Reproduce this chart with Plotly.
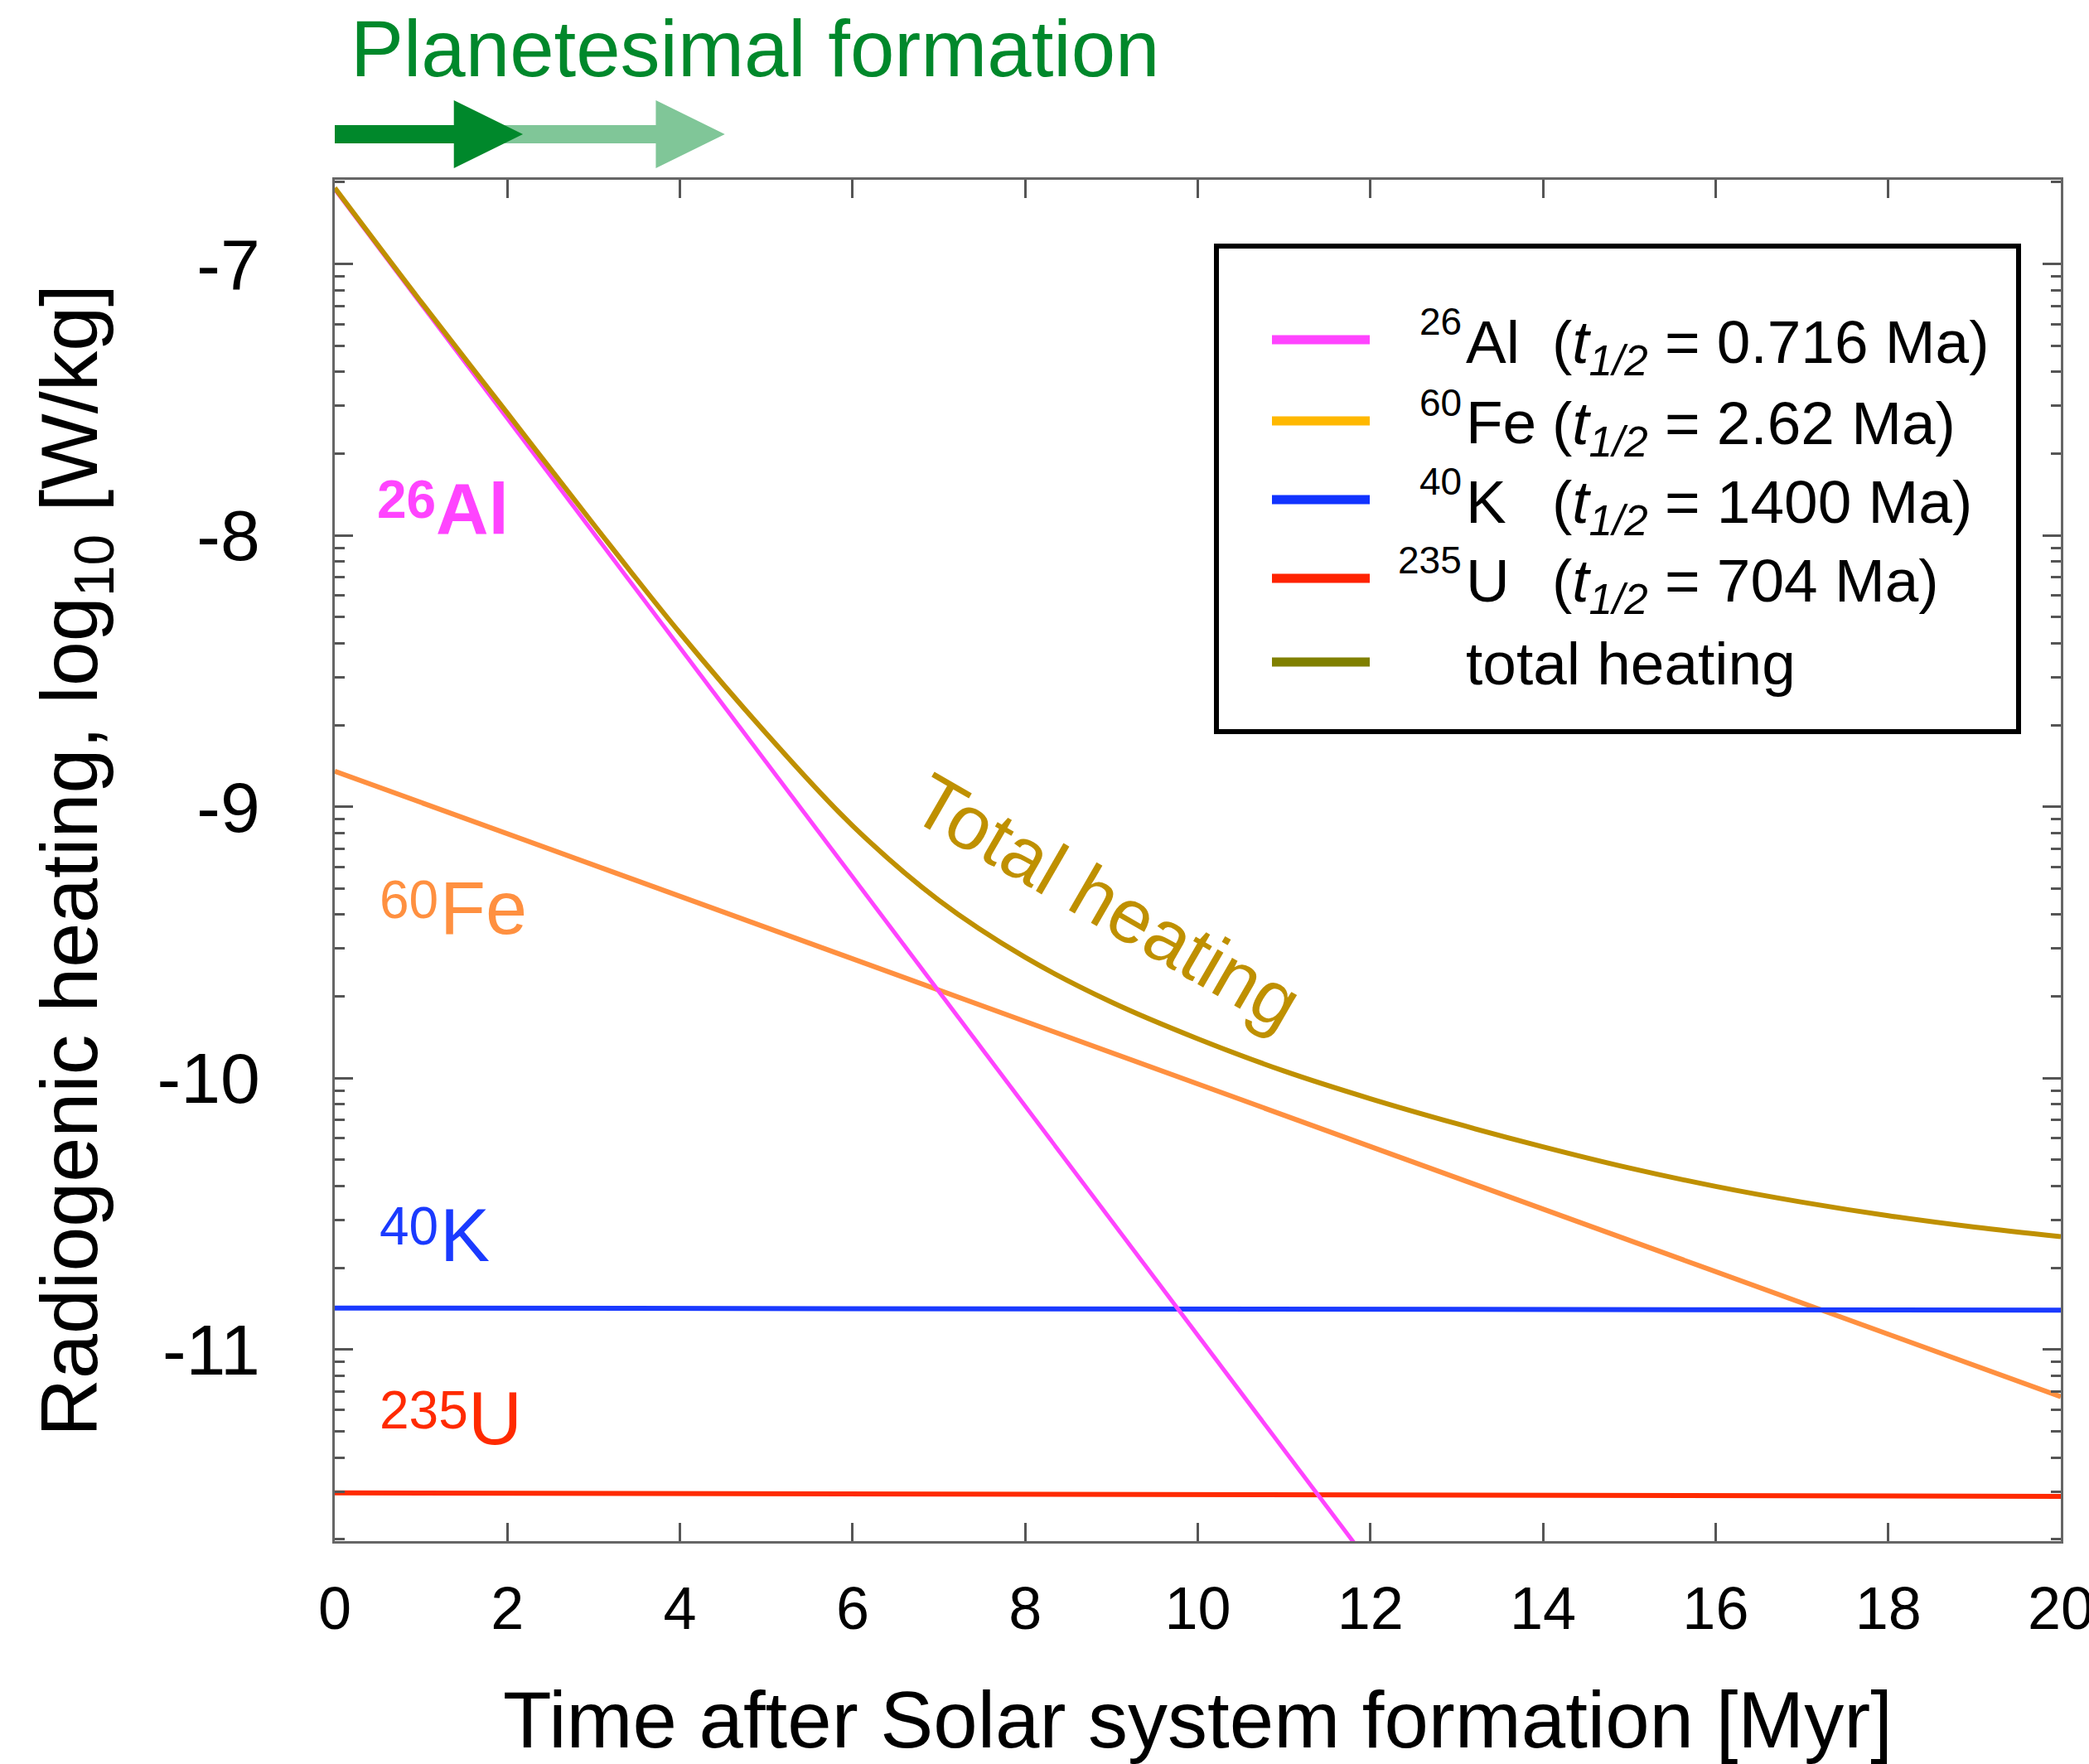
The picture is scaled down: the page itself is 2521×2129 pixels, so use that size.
import numpy as np
import plotly.graph_objects as go

# ---------------- data (log10 of heating in W/kg) ----------------
time_al = [0.0, 11.9]
heat_al = [-6.725, -11.75]

time_fe = [0.0, 20.0]
heat_fe = [-8.869, -11.174]

time_k = [0.0, 20.0]
heat_k = [-10.847, -10.855]

time_u = [0.0, 20.0]
heat_u = [-11.528, -11.541]

time_total = [0, 1, 2, 3, 4, 5, 6, 7, 8, 9, 10, 11, 12, 13, 14, 15, 16, 17, 18, 19, 20]
heat_total = [-6.72, -7.14, -7.55, -7.96, -8.36, -8.73, -9.07, -9.345, -9.555, -9.72,
              -9.855, -9.974, -10.076, -10.168, -10.253, -10.331, -10.399, -10.457, -10.507,
              -10.549, -10.584]

x_tick_vals = [0, 2, 4, 6, 8, 10, 12, 14, 16, 18, 20]
y_tick_vals = [-7, -8, -9, -10, -11]
y_tick_text = ["-7", "-8", "-9", "-10", "-11"]

# legend content
legend_mass = ["26", "60", "40", "235", ""]
legend_symbol = ["Al", "Fe", "K", "U", "total heating"]
legend_halflife = ["0.716", "2.62", "1400", "704", ""]
legend_color = ["#FF44FF", "#FFB800", "#1133FF", "#FF2200", "#808000"]

# in-plot isotope labels
label_mass = ["26", "60", "40", "235"]
label_symbol = ["Al", "Fe", "K", "U"]

# planetesimal formation arrows (Myr): start, tip
formation_early = [0.0, 2.18]
formation_late = [1.9, 4.52]

# ---------------- styling ----------------
FONT = "Liberation Sans, Arial, Helvetica, sans-serif"
C_AL = "#FF44FF"
C_FE = "#FF9040"
C_K = "#1A3AFF"
C_U = "#FF2A00"
C_TOT = "#BF9000"
GREEN = "#00882B"
GREEN_LIGHT = "#80C698"

W, H = 2521, 2129
ML, MR, MT, MB = 404, 34, 217, 269
PW, PH = W - ML - MR, H - MT - MB


def px(X):
    return (X - ML) / PW


def py(Y):
    return (H - MB - Y) / PH


fig = go.Figure()
fig.add_trace(go.Scatter(x=time_fe, y=heat_fe, mode="lines", line=dict(color=C_FE, width=6), showlegend=False))
fig.add_trace(go.Scatter(x=time_k, y=heat_k, mode="lines", line=dict(color=C_K, width=6), showlegend=False))
fig.add_trace(go.Scatter(x=time_u, y=heat_u, mode="lines", line=dict(color=C_U, width=6), showlegend=False))
fig.add_trace(go.Scatter(x=time_al, y=heat_al, mode="lines", line=dict(color=C_AL, width=5), showlegend=False))
fig.add_trace(go.Scatter(x=time_total, y=heat_total, mode="lines",
                         line=dict(color=C_TOT, width=6, shape="spline", smoothing=1.0), showlegend=False))

# minor log ticks
minor_vals = []
for n in range(-12, -6):
    for k in range(2, 10):
        v = n + np.log10(k)
        if -11.706 < v < -6.69:
            minor_vals.append(float(v))

fig.update_xaxes(range=[0, 20], tickvals=x_tick_vals, ticks="inside", ticklen=22, tickwidth=2.5,
                 tickcolor="#555", showline=True, linecolor="#666", linewidth=3, mirror="ticks",
                 showgrid=False, zeroline=False, tickfont=dict(family=FONT, size=72, color="black"),
                 ticklabelstandoff=17, ticklabeloverflow="allow",
                 title=dict(text="Time after Solar system formation [Myr]",
                            font=dict(family=FONT, size=96, color="black"), standoff=63))
fig.update_yaxes(range=[-11.706, -6.69], tickvals=y_tick_vals, ticktext=y_tick_text, ticks="inside",
                 ticklen=22, tickwidth=2.5, tickcolor="#555", showline=True, linecolor="#666",
                 linewidth=3, mirror="ticks", showgrid=False, zeroline=False,
                 tickfont=dict(family=FONT, size=86, color="black"), ticklabelstandoff=70,
                 minor=dict(tickmode="array", tickvals=minor_vals, ticks="inside", ticklen=12,
                            tickwidth=2.5, tickcolor="#555", showgrid=False),
                 title=dict(text="Radiogenic heating, log<sub>10</sub> [W/kg]",
                            font=dict(family=FONT, size=97, color="black"), standoff=40))

shapes = []
# arrows (light behind dark)
shaft_y0, shaft_y1 = py(173), py(151)
head_y0, head_y1 = py(203), py(121)
mid_y = py(162)
head_len = 0.8
for (xs, xe), col in [(formation_late, GREEN_LIGHT), (formation_early, GREEN)]:
    xh = xe - head_len
    path = (f"M {xs},{shaft_y0} L {xh},{shaft_y0} L {xh},{head_y0} L {xe},{mid_y} "
            f"L {xh},{head_y1} L {xh},{shaft_y1} L {xs},{shaft_y1} Z")
    shapes.append(dict(type="path", path=path, xref="x", yref="paper", fillcolor=col,
                       line=dict(width=0), layer="above"))

# legend box
shapes.append(dict(type="rect", xref="paper", yref="paper", x0=px(1468), x1=px(2436),
                   y0=py(883), y1=py(297), line=dict(color="black", width=6), fillcolor="white",
                   layer="above"))
row_y = [410, 508, 603, 698, 799]
for yy, col in zip(row_y, legend_color):
    shapes.append(dict(type="line", xref="paper", yref="paper", x0=px(1535), x1=px(1653),
                       y0=py(yy), y1=py(yy), line=dict(color=col, width=11), layer="above"))

ann = []
LFONT = 73
for yy, m, s, hl in zip(row_y, legend_mass, legend_symbol, legend_halflife):
    if m:
        ann.append(dict(text=m, xref="paper", yref="paper", x=px(1766), y=py(yy - 22),
                        xanchor="right", yanchor="middle", showarrow=False,
                        font=dict(family=FONT, size=46, color="black")))
    ann.append(dict(text=s, xref="paper", yref="paper", x=px(1767), y=py(yy + 2),
                    xanchor="left", yanchor="middle", showarrow=False,
                    font=dict(family=FONT, size=LFONT, color="black")))
    if hl:
        ann.append(dict(text=f"(<i>t</i><sub><i>1/2</i></sub> = {hl} Ma)", xref="paper", yref="paper",
                        x=px(1871), y=py(yy + 8), xanchor="left", yanchor="middle", showarrow=False,
                        font=dict(family=FONT, size=LFONT, color="black")))

# title of formation
ann.append(dict(text="Planetesimal formation", xref="paper", yref="paper", x=px(421), y=py(58),
                xanchor="left", yanchor="middle", showarrow=False,
                font=dict(family=FONT, size=96, color=GREEN)))

# isotope labels: mass number and symbol drawn separately (superscript top level with caps)
label_colors = [C_AL, C_FE, C_K, C_U]
label_bold = [True, False, False, False]
label_mass_x = [0.47, 0.5, 0.5, 0.5]
label_sym_x = [1.15, 1.2, 1.2, 1.53]
label_y = [-7.90, -9.375, -10.578, -11.254]
sup_lift = 0.031  # decades (about 10 px)
for m, s, col, b, xm, xs_, yv in zip(label_mass, label_symbol, label_colors, label_bold,
                                      label_mass_x, label_sym_x, label_y):
    mt = f"<b>{m}</b>" if b else m
    st = f"<b>{s}</b>" if b else s
    ann.append(dict(text=mt, x=xm, y=yv + sup_lift, xanchor="left", yanchor="middle",
                    showarrow=False, font=dict(family=FONT, size=64, color=col)))
    ann.append(dict(text=st, x=xs_, y=yv, xanchor="left", yanchor="middle",
                    showarrow=False, font=dict(family=FONT, size=90 if not b else 88, color=col)))

ann.append(dict(text="Total heating", x=8.95, y=-9.35, xanchor="center", yanchor="middle",
                textangle=30, showarrow=False, font=dict(family=FONT, size=92, color=C_TOT)))

fig.update_layout(width=W, height=H, margin=dict(l=ML, r=MR, t=MT, b=MB, autoexpand=False),
                  template="none", paper_bgcolor="white", plot_bgcolor="white",
                  shapes=shapes, annotations=ann, showlegend=False)

fig.write_html("out.html", config={"displayModeBar": False},
               post_script="document.body.style.margin='0';document.body.style.overflow='hidden';")
